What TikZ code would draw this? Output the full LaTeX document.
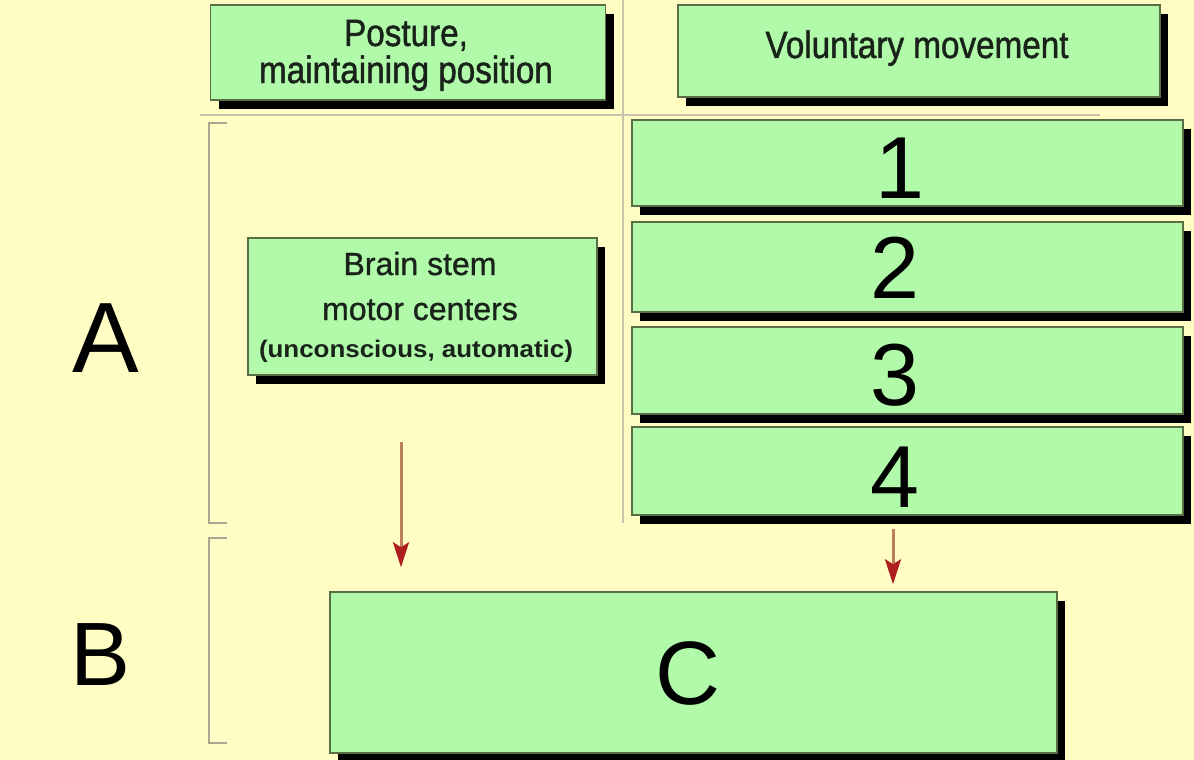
\documentclass[tikz,border=0pt]{standalone}
\usepackage{fontspec}
\setmainfont{Liberation Sans}
\newfontfamily\headfont[FakeStretch=0.875,FakeBold=1.2]{Liberation Sans}
\newfontfamily\boxfont[FakeBold=1]{Liberation Sans}
\usetikzlibrary{shadows,arrows.meta}
\definecolor{bgyellow}{RGB}{255,252,196}
\definecolor{boxgreen}{RGB}{176,250,170}
\definecolor{boxline}{RGB}{90,110,70}
\definecolor{sepgray}{RGB}{200,195,170}
\definecolor{arrowred}{RGB}{175,30,30}
\definecolor{shaftcol}{RGB}{190,125,95}
\definecolor{textdark}{RGB}{25,35,25}
\begin{document}
\begin{tikzpicture}[x=1pt,y=-1pt,
  gbox/.style={draw=boxline, line width=1.5pt, fill=boxgreen, inner sep=0pt,
    drop shadow={shadow xshift=8pt, shadow yshift=-9pt, fill=black, opacity=1}},
  headtext/.style={font=\headfont\fontsize{38}{37}\selectfont, text=textdark, align=center},
  boxtext/.style={font=\boxfont\fontsize{32}{32}\selectfont, text=textdark},
  bigtext/.style={font=\fontsize{88}{88}\selectfont, text=black},
  sepline/.style={draw=sepgray, line width=2.5pt},
  bracket/.style={draw=sepgray!85!black, line width=2.5pt},
  redarrow/.style={draw=shaftcol, line width=3pt, -{Stealth[length=25pt,width=16pt,inset=5pt,color=arrowred]}}
]
\fill[bgyellow] (0,0) rectangle (1194,760);
\useasboundingbox (0,0) rectangle (1194,760);

% separators
\draw[sepline] (623,0) -- (623,523);
\draw[sepline] (200,115) -- (1100,115);

% brackets
\draw[bracket] (227,123) -- (209,123) -- (209,523) -- (227,523);
\draw[bracket] (227,538) -- (209,538) -- (209,743) -- (227,743);

% header boxes
\node[gbox, minimum width=395pt, minimum height=95pt] (post) at (408,52.5) {};
\node[headtext, anchor=base] (postt1) at (406,46) {Posture,};
\node[headtext, anchor=base] (postt2) at (406,83) {maintaining position};
\node[gbox, minimum width=482pt, minimum height=92pt] (vol) at (919,51) {};
\node[headtext, anchor=base] (volt) at (917,58) {Voluntary movement};

% brain stem box
\node[gbox, minimum width=349pt, minimum height=137pt] (bs) at (422.5,306.5) {};
\node[boxtext, anchor=base] (bs1) at (420,275) {Brain stem};
\node[boxtext, anchor=base] (bs2) at (420,320) {motor centers};
\node[text=textdark, anchor=base, font=\bfseries\addfontfeature{FakeStretch=1.08}\fontsize{24}{24}\selectfont] (bs3) at (416,357) {(unconscious, automatic)};

% numbered boxes
\node[gbox, minimum width=551pt, minimum height=86pt] (b1) at (907.5,163) {};
\node[gbox, minimum width=551pt, minimum height=90pt] (b2) at (907.5,267) {};
\node[gbox, minimum width=551pt, minimum height=87pt] (b3) at (907.5,370.5) {};
\node[gbox, minimum width=551pt, minimum height=88pt] (b4) at (907.5,471) {};
\node[bigtext, anchor=base] (n1) at (900,198) {1};
\node[bigtext, anchor=base] (n2) at (895,298) {2};
\node[bigtext, anchor=base] (n3) at (895,405) {3};
\node[bigtext, anchor=base] (n4) at (895,507) {4};

% big box C
\node[gbox, minimum width=727pt, minimum height=161pt] (C) at (693.5,672.5) {};
\node[bigtext, anchor=base, font=\fontsize{90}{90}\selectfont] (Ct) at (688,704) {C};

% side letters
\node[bigtext, anchor=base, font=\fontsize{100}{100}\selectfont] (A) at (106,372) {A};
\node[bigtext, anchor=base, font=\fontsize{90}{90}\selectfont] (B) at (101,685) {B};

% arrows
\coordinate (a1) at (401,442);
\draw[redarrow, shorten >=24pt] (a1) -- (a1 |- C.north);
\draw[redarrow, shorten <=13pt, shorten >=7pt] (b4.south -| 893,0) -- (C.north -| 893,0);
\end{tikzpicture}
\end{document}
